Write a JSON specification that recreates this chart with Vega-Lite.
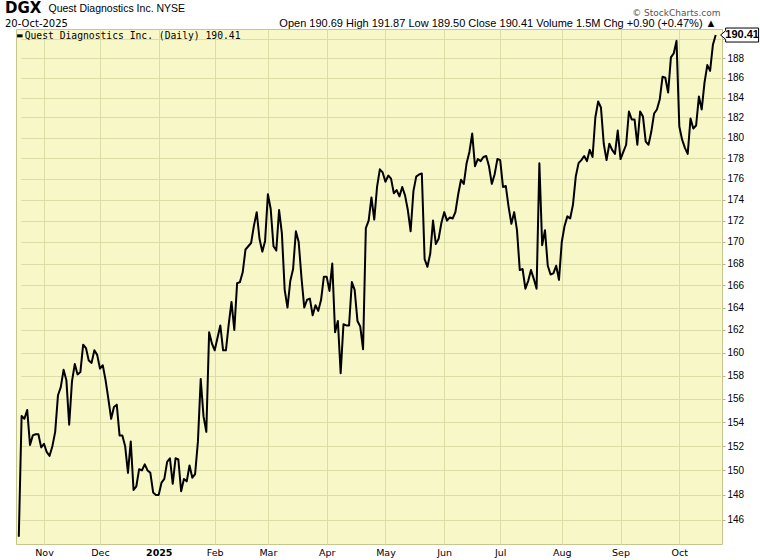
{
  "$schema": "https://vega.github.io/schema/vega-lite/v6.json",
  "width": 706,
  "height": 515,
  "autosize": {"type": "none"},
  "padding": {"left": 16, "top": 29, "right": 38, "bottom": 16},
  "background": "white",
  "config": {
    "view": {"fill": "#F8F7C8", "stroke": "#C5C58E", "strokeWidth": 1},
    "font": "Liberation Sans"
  },
  "title": {
    "text": "DGX",
    "subtitle": "20-Oct-2025",
    "anchor": "start",
    "frame": "group",
    "font": "DejaVu Sans",
    "fontSize": 15,
    "fontWeight": "bold",
    "color": "black",
    "subtitleFont": "DejaVu Sans",
    "subtitleFontSize": 10,
    "subtitleColor": "black",
    "subtitlePadding": 3,
    "offset": 0,
    "dx": -11,
    "dy": 26
  },
  "data": {"values": [
    {"date":"2024-10-21","close":144.65},{"date":"2024-10-22","close":154.54},{"date":"2024-10-23","close":154.3},{"date":"2024-10-24","close":155.05},{"date":"2024-10-25","close":152.1},{"date":"2024-10-28","close":152.9},{"date":"2024-10-29","close":153.0},{"date":"2024-10-30","close":153.0},{"date":"2024-10-31","close":151.9},
    {"date":"2024-11-01","close":152.2},{"date":"2024-11-04","close":151.5},{"date":"2024-11-05","close":151.2},{"date":"2024-11-06","close":152.0},{"date":"2024-11-07","close":153.2},{"date":"2024-11-08","close":156.3},{"date":"2024-11-11","close":157.0},{"date":"2024-11-12","close":158.5},{"date":"2024-11-13","close":157.6},{"date":"2024-11-14","close":153.8},{"date":"2024-11-15","close":157.5},{"date":"2024-11-18","close":159.0},{"date":"2024-11-19","close":158.1},{"date":"2024-11-20","close":158.3},{"date":"2024-11-21","close":160.7},{"date":"2024-11-22","close":160.4},{"date":"2024-11-25","close":159.3},{"date":"2024-11-26","close":159.1},{"date":"2024-11-27","close":160.2},{"date":"2024-11-29","close":159.8},
    {"date":"2024-12-02","close":158.6},{"date":"2024-12-03","close":158.9},{"date":"2024-12-04","close":157.6},{"date":"2024-12-05","close":156.0},{"date":"2024-12-06","close":154.3},{"date":"2024-12-09","close":155.3},{"date":"2024-12-10","close":155.5},{"date":"2024-12-11","close":152.9},{"date":"2024-12-12","close":152.9},{"date":"2024-12-13","close":152.0},{"date":"2024-12-16","close":149.8},{"date":"2024-12-17","close":152.4},{"date":"2024-12-18","close":148.4},{"date":"2024-12-19","close":148.7},{"date":"2024-12-20","close":150.1},{"date":"2024-12-23","close":150.0},{"date":"2024-12-24","close":150.5},{"date":"2024-12-26","close":150.0},{"date":"2024-12-27","close":149.8},{"date":"2024-12-30","close":148.2},{"date":"2024-12-31","close":148.0},
    {"date":"2025-01-02","close":148.0},{"date":"2025-01-03","close":149.0},{"date":"2025-01-06","close":149.3},{"date":"2025-01-07","close":150.7},{"date":"2025-01-08","close":151.0},{"date":"2025-01-10","close":148.9},{"date":"2025-01-13","close":151.0},{"date":"2025-01-14","close":150.9},{"date":"2025-01-15","close":148.3},{"date":"2025-01-16","close":149.3},{"date":"2025-01-17","close":149.1},{"date":"2025-01-21","close":150.4},{"date":"2025-01-22","close":149.4},{"date":"2025-01-23","close":149.7},{"date":"2025-01-24","close":152.4},{"date":"2025-01-27","close":157.7},{"date":"2025-01-28","close":154.5},{"date":"2025-01-29","close":153.2},{"date":"2025-01-30","close":161.8},{"date":"2025-01-31","close":160.8},
    {"date":"2025-02-03","close":160.2},{"date":"2025-02-04","close":161.3},{"date":"2025-02-05","close":162.4},{"date":"2025-02-06","close":160.2},{"date":"2025-02-07","close":160.2},{"date":"2025-02-10","close":162.5},{"date":"2025-02-11","close":164.5},{"date":"2025-02-12","close":162.0},{"date":"2025-02-13","close":166.2},{"date":"2025-02-14","close":166.3},{"date":"2025-02-18","close":167.2},{"date":"2025-02-19","close":169.3},{"date":"2025-02-20","close":169.6},{"date":"2025-02-21","close":169.9},{"date":"2025-02-24","close":171.5},{"date":"2025-02-25","close":172.8},{"date":"2025-02-26","close":170.3},{"date":"2025-02-27","close":169.1},{"date":"2025-02-28","close":170.1},
    {"date":"2025-03-03","close":174.5},{"date":"2025-03-04","close":173.1},{"date":"2025-03-05","close":169.6},{"date":"2025-03-06","close":169.2},{"date":"2025-03-07","close":173.0},{"date":"2025-03-10","close":170.8},{"date":"2025-03-11","close":165.6},{"date":"2025-03-12","close":164.0},{"date":"2025-03-13","close":166.4},{"date":"2025-03-14","close":167.5},{"date":"2025-03-17","close":171.0},{"date":"2025-03-18","close":170.0},{"date":"2025-03-19","close":166.7},{"date":"2025-03-20","close":164.0},{"date":"2025-03-21","close":164.7},{"date":"2025-03-24","close":164.8},{"date":"2025-03-25","close":163.3},{"date":"2025-03-26","close":164.2},{"date":"2025-03-27","close":163.7},{"date":"2025-03-28","close":164.7},{"date":"2025-03-31","close":166.8},
    {"date":"2025-04-01","close":166.8},{"date":"2025-04-02","close":165.5},{"date":"2025-04-03","close":168.0},{"date":"2025-04-04","close":161.8},{"date":"2025-04-07","close":162.8},{"date":"2025-04-08","close":158.2},{"date":"2025-04-09","close":162.5},{"date":"2025-04-10","close":162.4},{"date":"2025-04-11","close":162.4},{"date":"2025-04-14","close":166.3},{"date":"2025-04-15","close":165.6},{"date":"2025-04-16","close":162.8},{"date":"2025-04-17","close":162.3},{"date":"2025-04-21","close":160.3},{"date":"2025-04-22","close":171.3},{"date":"2025-04-23","close":172.0},{"date":"2025-04-24","close":174.2},{"date":"2025-04-25","close":172.1},{"date":"2025-04-28","close":175.2},{"date":"2025-04-29","close":176.9},{"date":"2025-04-30","close":176.6},
    {"date":"2025-05-01","close":175.7},{"date":"2025-05-02","close":176.3},{"date":"2025-05-05","close":176.0},{"date":"2025-05-06","close":174.6},{"date":"2025-05-07","close":174.9},{"date":"2025-05-08","close":174.3},{"date":"2025-05-09","close":175.2},{"date":"2025-05-12","close":174.4},{"date":"2025-05-13","close":173.0},{"date":"2025-05-14","close":171.0},{"date":"2025-05-15","close":174.8},{"date":"2025-05-16","close":176.2},{"date":"2025-05-19","close":176.4},{"date":"2025-05-20","close":176.5},{"date":"2025-05-21","close":168.4},{"date":"2025-05-22","close":167.7},{"date":"2025-05-23","close":168.9},{"date":"2025-05-27","close":172.0},{"date":"2025-05-28","close":169.8},{"date":"2025-05-29","close":170.3},{"date":"2025-05-30","close":171.8},
    {"date":"2025-06-02","close":172.8},{"date":"2025-06-03","close":172.0},{"date":"2025-06-04","close":172.3},{"date":"2025-06-05","close":172.2},{"date":"2025-06-06","close":172.8},{"date":"2025-06-09","close":174.5},{"date":"2025-06-10","close":175.9},{"date":"2025-06-11","close":175.5},{"date":"2025-06-12","close":177.5},{"date":"2025-06-13","close":178.6},{"date":"2025-06-16","close":180.4},{"date":"2025-06-17","close":177.2},{"date":"2025-06-18","close":177.9},{"date":"2025-06-20","close":177.7},{"date":"2025-06-23","close":178.1},{"date":"2025-06-24","close":178.2},{"date":"2025-06-25","close":177.2},{"date":"2025-06-26","close":175.5},{"date":"2025-06-27","close":176.4},{"date":"2025-06-30","close":177.9},
    {"date":"2025-07-01","close":177.8},{"date":"2025-07-02","close":175.2},{"date":"2025-07-03","close":175.3},{"date":"2025-07-07","close":173.3},{"date":"2025-07-08","close":171.7},{"date":"2025-07-09","close":172.8},{"date":"2025-07-10","close":171.1},{"date":"2025-07-11","close":167.4},{"date":"2025-07-14","close":167.5},{"date":"2025-07-15","close":165.7},{"date":"2025-07-16","close":166.4},{"date":"2025-07-17","close":167.4},{"date":"2025-07-18","close":166.6},{"date":"2025-07-21","close":165.7},{"date":"2025-07-22","close":177.5},{"date":"2025-07-23","close":169.7},{"date":"2025-07-24","close":171.1},{"date":"2025-07-25","close":167.8},{"date":"2025-07-28","close":167.0},{"date":"2025-07-29","close":167.1},{"date":"2025-07-30","close":167.8},{"date":"2025-07-31","close":166.5},
    {"date":"2025-08-01","close":170.0},{"date":"2025-08-04","close":171.5},{"date":"2025-08-05","close":172.4},{"date":"2025-08-06","close":172.2},{"date":"2025-08-07","close":173.5},{"date":"2025-08-08","close":176.2},{"date":"2025-08-11","close":177.5},{"date":"2025-08-12","close":177.8},{"date":"2025-08-13","close":178.2},{"date":"2025-08-14","close":177.7},{"date":"2025-08-15","close":178.8},{"date":"2025-08-18","close":178.1},{"date":"2025-08-19","close":182.0},{"date":"2025-08-20","close":183.6},{"date":"2025-08-21","close":183.0},{"date":"2025-08-22","close":179.4},{"date":"2025-08-25","close":177.8},{"date":"2025-08-26","close":179.4},{"date":"2025-08-27","close":178.8},{"date":"2025-08-28","close":178.4},{"date":"2025-08-29","close":180.7},
    {"date":"2025-09-02","close":177.9},{"date":"2025-09-03","close":178.6},{"date":"2025-09-04","close":179.3},{"date":"2025-09-05","close":182.6},{"date":"2025-09-08","close":181.8},{"date":"2025-09-09","close":181.8},{"date":"2025-09-10","close":179.3},{"date":"2025-09-11","close":182.6},{"date":"2025-09-12","close":182.1},{"date":"2025-09-15","close":179.6},{"date":"2025-09-16","close":179.3},{"date":"2025-09-17","close":180.6},{"date":"2025-09-18","close":182.4},{"date":"2025-09-19","close":182.8},{"date":"2025-09-22","close":183.8},{"date":"2025-09-23","close":186.1},{"date":"2025-09-24","close":186.0},{"date":"2025-09-25","close":184.5},{"date":"2025-09-26","close":188.1},{"date":"2025-09-29","close":188.5},{"date":"2025-09-30","close":189.8},
    {"date":"2025-10-01","close":181.1},{"date":"2025-10-02","close":179.8},{"date":"2025-10-03","close":179.0},{"date":"2025-10-06","close":178.4},{"date":"2025-10-07","close":181.9},{"date":"2025-10-08","close":180.9},{"date":"2025-10-09","close":181.2},{"date":"2025-10-10","close":184.1},{"date":"2025-10-13","close":182.8},{"date":"2025-10-14","close":185.5},{"date":"2025-10-15","close":187.3},{"date":"2025-10-16","close":186.7},{"date":"2025-10-17","close":189.4},{"date":"2025-10-20","close":190.41}
  ]},
  "layer": [
    {
      "mark": {"type": "line", "strokeWidth": 2, "strokeJoin": "round"},
      "encoding": {
        "x": {
          "field": "date", "type": "ordinal",
          "scale": {"type": "point", "range": [1.4, 701.1]},
          "axis": {
            "orient": "bottom",
            "values": ["2024-11-01","2024-12-02","2025-01-02","2025-02-03","2025-03-03","2025-04-01","2025-05-01","2025-06-02","2025-07-01","2025-08-01","2025-09-02","2025-10-01"],
            "labelExpr": "datum.value == '2025-01-02' ? '2025' : ['Jan','Feb','Mar','Apr','May','Jun','Jul','Aug','Sep','Oct','Nov','Dec'][toNumber(slice(datum.value, 5, 7)) - 1]",
            "labelFontWeight": {"condition": {"test": "datum.value == '2025-01-02'", "value": "bold"}, "value": "normal"},
            "labelAngle": 0,
            "labelFont": "DejaVu Sans",
            "labelFontSize": 9.5,
            "labelColor": "black",
            "labelPadding": 3,
            "ticks": false,
            "tickSize": 0,
            "domain": false,
            "grid": true,
            "gridColor": "#DADDA6",
            "gridWidth": 1,
            "title": "Quest Diagnostics Inc.  NYSE",
            "titleFont": "Liberation Sans",
            "titleFontSize": 10.5,
            "titleFontWeight": "normal",
            "titleColor": "black",
            "titleAlign": "left",
            "titleAnchor": "start",
            "titleBaseline": "alphabetic",
            "titleX": 32,
            "titleY": -533
          }
        },
        "y": {
          "field": "close", "type": "quantitative",
          "scale": {"type": "log", "domain": [144.07, 191.04], "nice": false, "zero": false},
          "axis": {
            "orient": "right",
            "values": [146,148,150,152,154,156,158,160,162,164,166,168,170,172,174,176,178,180,182,184,186,188,190],
            "format": "d",
            "labelFont": "Liberation Sans",
            "labelFontSize": 10,
            "labelColor": "black",
            "labelPadding": 2,
            "ticks": true,
            "tickSize": 3,
            "tickColor": "#B9B985",
            "domain": false,
            "grid": true,
            "gridColor": "#DADDA6",
            "gridWidth": 1,
            "title": null
          }
        },
        "color": {
          "datum": "Quest Diagnostics Inc. (Daily) 190.41",
          "type": "nominal",
          "scale": {"range": ["black"]},
          "legend": {
            "orient": "none",
            "legendX": -1,
            "legendY": 2,
            "title": null,
            "padding": 0,
            "symbolType": "stroke",
            "symbolStrokeWidth": 3,
            "symbolSize": 30,
            "labelFont": "DejaVu Sans Mono",
            "labelFontSize": 9.7,
            "labelColor": "black",
            "labelOffset": 0,
            "labelLimit": 400
          }
        }
      }
    },
    {
      "transform": [{"filter": "datum.date == '2025-10-20'"}],
      "mark": {
        "type": "point",
        "shape": "M-1,0L-0.767,-0.2L-0.767,-0.326L0.767,-0.326L0.767,0.326L-0.767,0.326L-0.767,0.2Z",
        "size": 1849,
        "filled": true,
        "fill": "white",
        "stroke": "black",
        "strokeWidth": 1,
        "opacity": 1,
        "xOffset": 26.4
      },
      "encoding": {
        "x": {"field": "date", "type": "ordinal", "axis": null},
        "y": {"field": "close", "type": "quantitative", "axis": null}
      }
    },
    {
      "transform": [{"filter": "datum.date == '2025-10-20'"}],
      "mark": {
        "type": "text",
        "dx": 26.4,
        "align": "center",
        "baseline": "middle",
        "font": "Liberation Sans",
        "fontSize": 11,
        "fontWeight": "bold",
        "color": "black"
      },
      "encoding": {
        "x": {
          "field": "date", "type": "ordinal",
          "axis": {
            "orient": "top",
            "labels": false,
            "ticks": false,
            "domain": false,
            "grid": false,
            "title": "Open 190.69  High 191.87  Low 189.50  Close 190.41  Volume 1.5M  Chg +0.90 (+0.47%) ▲",
            "titleFont": "Liberation Sans",
            "titleFontSize": 11,
            "titleFontWeight": "normal",
            "titleColor": "black",
            "titleAlign": "right",
            "titleAnchor": "end",
            "titleBaseline": "alphabetic",
            "titleX": 700,
            "titleY": -3
          }
        },
        "y": {
          "field": "close", "type": "quantitative",
          "axis": {
            "orient": "left",
            "labels": false,
            "ticks": false,
            "domain": false,
            "grid": false,
            "title": "© StockCharts.com",
            "titleAngle": 0,
            "titleFont": "DejaVu Sans",
            "titleFontSize": 9,
            "titleFontWeight": "normal",
            "titleColor": "#555555",
            "titleAlign": "right",
            "titleBaseline": "alphabetic",
            "titleX": 704,
            "titleY": -14
          }
        },
        "text": {"field": "close", "type": "quantitative", "format": ".2f"}
      }
    }
  ],
  "resolve": {"axis": {"x": "independent", "y": "independent"}}
}
